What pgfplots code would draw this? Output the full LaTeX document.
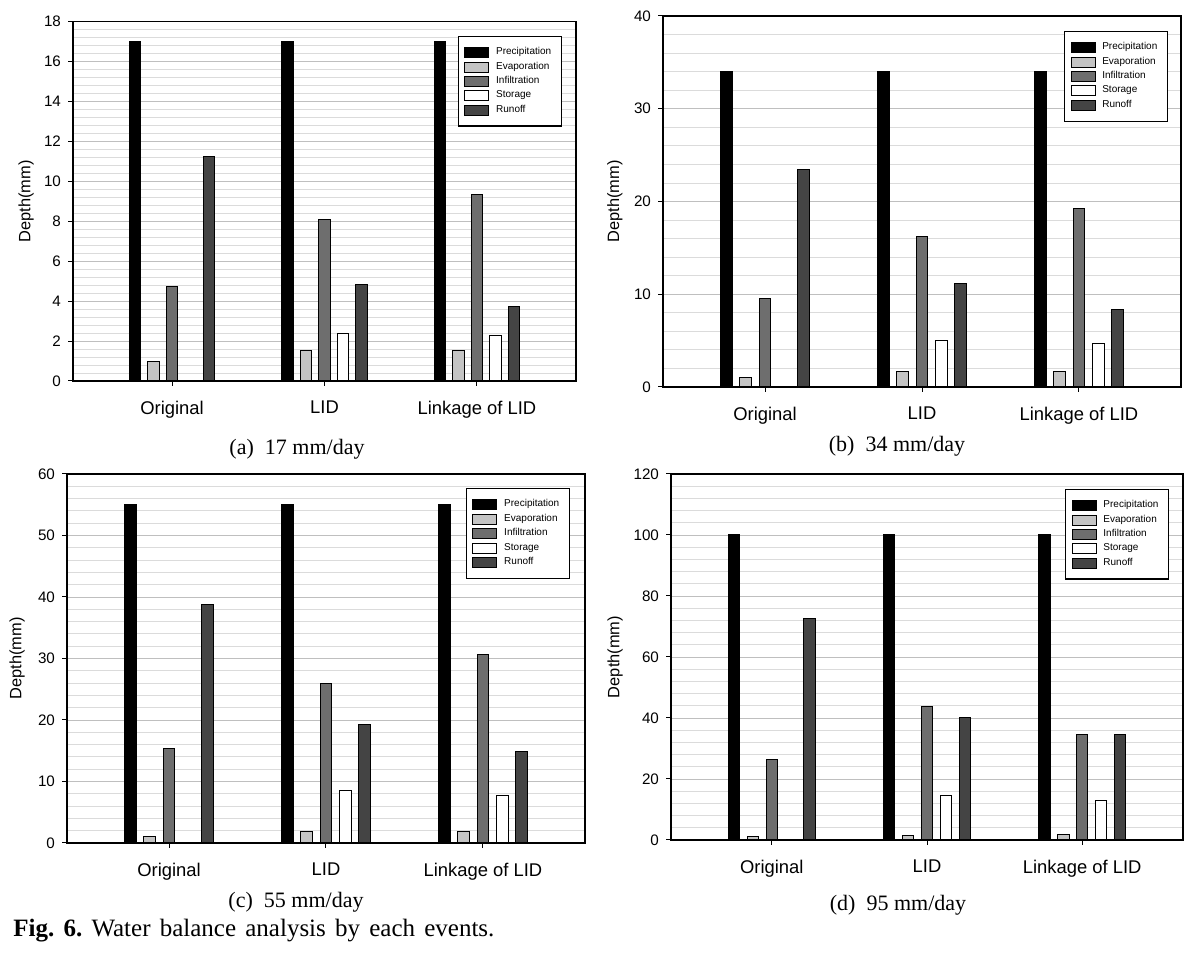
\documentclass[border=0pt]{standalone}
\usepackage{pgfplots}
\pgfplotsset{compat=1.18}
\usepackage{pgfplotstable}
\usepackage{fontspec}
\setmainfont{Liberation Serif}
\setsansfont{Liberation Sans}

\definecolor{cEva}{HTML}{C4C4C4}
\definecolor{cInf}{HTML}{6E6E6E}
\definecolor{cRun}{HTML}{444444}

\pgfplotstableread{
x P E I S R
0 17 1.0 4.75 nan 11.25
1 17 1.55 8.1 2.4 4.85
2 17 1.55 9.35 2.3 3.75
}\dataA
\pgfplotstableread{
x P E I S R
0 34 1.0 9.5 nan 23.45
1 34 1.65 16.2 5.0 11.15
2 34 1.65 19.25 4.65 8.4
}\dataB
\pgfplotstableread{
x P E I S R
0 55 1.05 15.4 nan 38.8
1 55 1.85 25.9 8.5 19.2
2 55 1.85 30.7 7.75 14.9
}\dataC
\pgfplotstableread{
x P E I S R
0 100 1.0 26.5 nan 72.5
1 100 1.6 43.8 14.5 40.3
2 100 1.85 34.7 12.9 34.7
}\dataD

\pgfplotsset{
 wb/.style={
  scale only axis, anchor=south west,
  xmin=-0.65, xmax=2.65, ymin=0,
  xtick={0,1,2}, xticklabels={Original,LID,Linkage of LID},
  ybar, bar width=0.075,
  legend image code/.code={\draw[##1, line width=0.4pt] (0pt,-2.5pt) rectangle (12pt,2.5pt);},
  axis line style={line width=0.6pt},
  ymajorgrids, yminorgrids, minor y tick num=4,
  major grid style={gray!50, line width=0.4pt},
  minor grid style={gray!28, line width=0.4pt},
  tick align=outside, xtick pos=bottom, ytick pos=left,
  major tick length=2.5pt, minor tick length=0pt,
  tick style={black, line width=0.5pt},
  /pgf/number format/assume math mode=true,
  yticklabel style={font=\fontsize{7.6}{9}\selectfont\sffamily},
  xticklabel style={font=\fontsize{9.2}{10}\selectfont\sffamily, yshift=-4pt},
  ylabel={Depth(mm)},
  ylabel style={font=\fontsize{8.2}{9}\selectfont\sffamily, anchor=center},
  legend style={font=\fontsize{5}{5.5}\selectfont\sffamily, draw=black, line width=0.7pt,
    anchor=north east, inner xsep=3pt, inner ysep=3.5pt, row sep=-1.9pt,
    cells={anchor=west}, /tikz/every odd column/.style={column sep=1.5pt}},
 },
 bP/.style={fill=black, draw=black, line width=0.5pt, bar shift=-0.244},
 bE/.style={fill=cEva, draw=black, line width=0.5pt, bar shift=-0.122},
 bI/.style={fill=cInf, draw=black, line width=0.5pt, bar shift=0},
 bS/.style={fill=white, draw=black, line width=0.5pt, bar shift=0.122},
 bR/.style={fill=cRun, draw=black, line width=0.5pt, bar shift=0.244},
}

\newcommand{\bars}[1]{%
  \addplot[bP] table[x=x,y=P]{#1};
  \addplot[bE] table[x=x,y=E]{#1};
  \addplot[bI] table[x=x,y=I]{#1};
  \addplot[bS] table[x=x,y=S]{#1};
  \addplot[bR] table[x=x,y=R]{#1};
  \legend{Precipitation,Evaporation,Infiltration,Storage,Runoff}
}

\begin{document}
\begin{tikzpicture}
\useasboundingbox (0,0) rectangle (600pt,476.5pt);

% (a)
\begin{axis}[wb, at={(36.5pt,286pt)}, width=251.5pt, height=179.65pt,
  ymax=18, ytick={0,2,...,18},
  ylabel style={at={(axis description cs:-0.0934,0.5)}},
  legend style={at={(0.972,0.961)}}]
\bars{\dataA}
\end{axis}

% (b)
\begin{axis}[wb, at={(331.5pt,283pt)}, width=259pt, height=185.5pt,
  ymax=40, ytick={0,10,...,40},
  ylabel style={at={(axis description cs:-0.0927,0.5)}},
  legend style={at={(0.975,0.96)}}]
\bars{\dataB}
\end{axis}

% (c)
\begin{axis}[wb, at={(33.5pt,55pt)}, width=259pt, height=184.5pt,
  ymax=60, ytick={0,10,...,60},
  ylabel style={at={(axis description cs:-0.0965,0.5)}},
  legend style={at={(0.971,0.962)}}]
\bars{\dataC}
\end{axis}

% (d)
\begin{axis}[wb, at={(335.5pt,56.5pt)}, width=256pt, height=183pt,
  ymax=120, ytick={0,20,...,120},
  ylabel style={at={(axis description cs:-0.109,0.5)}},
  legend style={at={(0.973,0.96)}}]
\bars{\dataD}
\end{axis}

\node[font=\fontsize{11}{13}\selectfont] at (148.5pt,252pt) {(a)\enspace 17 mm/day};
\node[font=\fontsize{11}{13}\selectfont] at (448.5pt,253.5pt) {(b)\enspace 34 mm/day};
\node[font=\fontsize{11}{13}\selectfont] at (148pt,25.5pt) {(c)\enspace 55 mm/day};
\node[font=\fontsize{11}{13}\selectfont] at (449pt,24pt) {(d)\enspace 95 mm/day};
\node[font=\fontsize{12.5}{14}\selectfont, anchor=west, inner sep=0pt] at (6.5pt,11pt)
  {\makebox[240.5pt][s]{\textbf{Fig.}\hfill\textbf{6.}\hfill Water\hfill balance\hfill analysis\hfill by\hfill each\hfill events.}};
\end{tikzpicture}
\end{document}
